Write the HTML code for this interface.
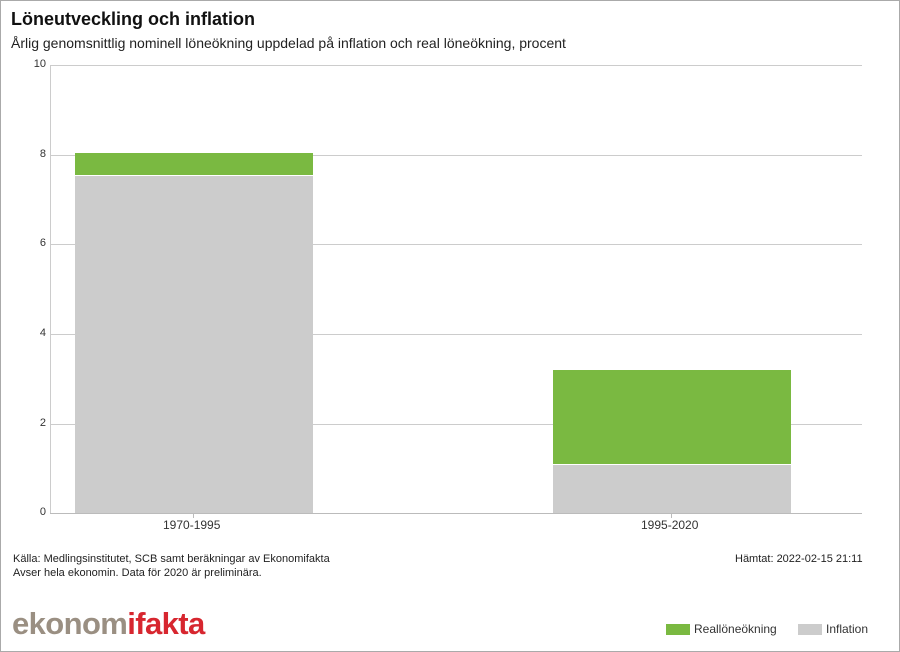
<!DOCTYPE html>
<html><head><meta charset="utf-8"><style>
body{margin:0;background:#fff;}
#c{position:relative;width:898px;height:650px;border:1px solid #aaa;overflow:hidden;font-family:"Liberation Sans",sans-serif;color:#111;}
#i{position:absolute;left:-1px;top:-1px;width:900px;height:652px;}
.a{position:absolute;white-space:nowrap;}
.g{position:absolute;left:50px;width:812px;height:1px;background:#ccc;}
.yl{position:absolute;width:30px;left:16px;text-align:right;font-size:11px;color:#333;}
</style></head><body><div id="c"><div id="i">
<div class="a" style="left:11px;top:9px;font-size:18px;font-weight:bold;">Löneutveckling och inflation</div>
<div class="a" style="left:11px;top:35px;font-size:14px;color:#222;">Årlig genomsnittlig nominell löneökning uppdelad på inflation och real löneökning, procent</div>
<div class="g" style="top:65px"></div>
<div class="g" style="top:155px"></div>
<div class="g" style="top:244px"></div>
<div class="g" style="top:334px"></div>
<div class="g" style="top:424px"></div>
<div class="a" style="left:50px;top:65px;width:1px;height:449px;background:#ccc"></div>
<div class="yl" style="top:58px">10</div>
<div class="yl" style="top:148px">8</div>
<div class="yl" style="top:237px">6</div>
<div class="yl" style="top:327px">4</div>
<div class="yl" style="top:417px">2</div>
<div class="yl" style="top:506px">0</div>
<div class="a" style="left:75px;top:153px;width:238px;height:22px;background:#7ab941"></div>
<div class="a" style="left:75px;top:175px;width:238px;height:338px;background:#cccccc;border-top:1px solid #fff;box-sizing:border-box"></div>
<div class="a" style="left:553px;top:370px;width:238px;height:94px;background:#7ab941"></div>
<div class="a" style="left:553px;top:464px;width:238px;height:49px;background:#cccccc;border-top:1px solid #fff;box-sizing:border-box"></div>
<div class="a" style="left:50px;top:513px;width:812px;height:1px;background:#bbb"></div>
<div class="a" style="left:193px;top:513px;width:1px;height:5px;background:#bbb"></div>
<div class="a" style="left:671px;top:513px;width:1px;height:5px;background:#bbb"></div>
<div class="a" style="left:163px;top:518px;font-size:12px;color:#333">1970-1995</div>
<div class="a" style="left:641px;top:518px;font-size:12px;color:#333">1995-2020</div>
<div class="a" style="left:13px;top:553px;font-size:11px;color:#222">Källa: Medlingsinstitutet, SCB samt beräkningar av Ekonomifakta</div>
<div class="a" style="left:13px;top:567px;font-size:11px;color:#222">Avser hela ekonomin. Data för 2020 är preliminära.</div>
<div class="a" style="left:735px;top:553px;font-size:11px;color:#222">Hämtat: 2022-02-15 21:11</div>
<div class="a" style="left:12px;top:606px;font-size:31px;font-weight:bold;letter-spacing:-0.6px;"><span style="color:#9a8f82">ekonom</span><span style="color:#d7262f">ifakta</span></div>
<div class="a" style="left:666px;top:624px;width:24px;height:11px;background:#7ab941"></div>
<div class="a" style="left:694px;top:622px;font-size:12px;color:#333">Reallöneökning</div>
<div class="a" style="left:798px;top:624px;width:24px;height:11px;background:#ccc"></div>
<div class="a" style="left:826px;top:622px;font-size:12px;color:#333">Inflation</div>
</div></div></body></html>
